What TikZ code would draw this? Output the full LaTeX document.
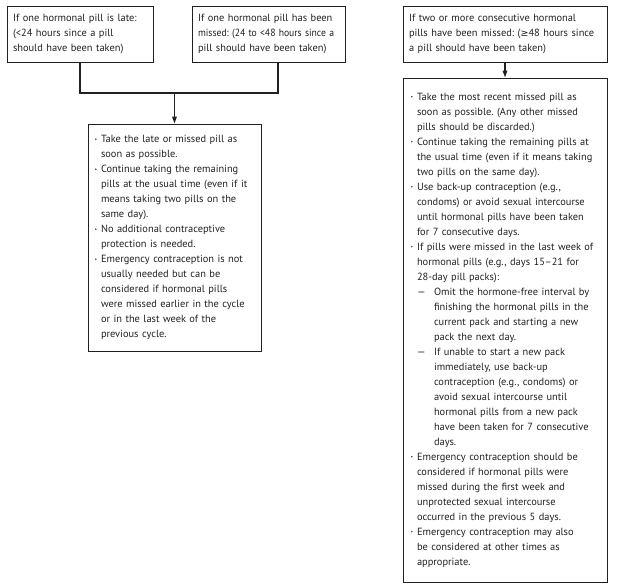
\documentclass[tikz,border=0pt]{standalone}
\usepackage{fontspec}
\setmainfont{PT Sans}
\newfontfamily\symfont{DejaVu Sans}
\usetikzlibrary{arrows.meta}
\definecolor{inkc}{HTML}{231F20}
\frenchspacing
\newcommand\mybul{\makebox[6pt][l]{\raisebox{2.6pt}{\tikz\fill[inkc] (0,0) circle (0.8pt);}}}
\newcommand\myhang{\hspace*{6pt}}
\newcommand\mydash{\hspace*{6pt}\makebox[17pt][l]{—}}
\newcommand\mydhang{\hspace*{23pt}}
\begin{document}
\begin{tikzpicture}[x=1pt,y=1pt,
  box/.style={draw=inkc, line width=0.9pt, text=inkc, align=left, anchor=center,
    font=\fontsize{10.4}{15}\selectfont\frenchspacing, inner xsep=6pt, inner ysep=0pt},
  conn/.style={draw=inkc, line width=1.4pt},
  arr/.style={-{Triangle[length=7pt,width=4.5pt]}}]
\useasboundingbox (0,0) rectangle (617,-587);
\node[box, minimum width=146pt, minimum height=56pt, text width=134pt] (A) at (80,-34)
 {If one hormonal pill is late:\\(<24 hours since a pill\\should have been taken)};
\node[box, minimum width=153pt, minimum height=56pt, text width=141pt] (B) at (268.5,-34)
 {If one hormonal pill has been\\\scalebox{0.93}[1]{missed: (24 to <48 hours since a}\\pill should have been taken)};
\node[box, minimum width=204pt, minimum height=56pt, text width=192pt] (D) at (505,-34)
 {If two or more consecutive hormonal\\pills have been missed: ({\symfont\fontsize{9.5}{15}\selectfont ≥}48 hours since\\a pill should have been taken)};
\node[box, minimum width=173pt, minimum height=227pt, text width=159pt, inner xsep=7pt] (C) at (174.5,-237.5)
 {\mybul Take the late or missed pill as\\
  \myhang soon as possible.\\
  \mybul Continue taking the remaining\\
  \myhang pills at the usual time (even if it\\
  \myhang means taking two pills on the\\
  \myhang same day).\\
  \mybul No additional contraceptive\\
  \myhang protection is needed.\\
  \mybul Emergency contraception is not\\
  \myhang usually needed but can be\\
  \myhang considered if hormonal pills\\
  \myhang were missed earlier in the cycle\\
  \myhang or in the last week of the\\
  \myhang previous cycle.};
\node[box, minimum width=204pt, minimum height=504pt, text width=188pt, inner xsep=8pt] (E) at (505,-330)
 {\mybul Take the most recent missed pill as\\
  \myhang soon as possible. (Any other missed\\
  \myhang pills should be discarded.)\\
  \mybul Continue taking the remaining pills at\\
  \myhang the usual time (even if it means taking\\
  \myhang two pills on the same day).\\
  \mybul Use back-up contraception (e.g.,\\
  \myhang condoms) or avoid sexual intercourse\\
  \myhang until hormonal pills have been taken\\
  \myhang for 7 consecutive days.\\
  \mybul If pills were missed in the last week of\\
  \myhang hormonal pills (e.g., days 15–21 for\\
  \myhang 28-day pill packs):\\
  \mydash Omit the hormone-free interval by\\
  \mydhang finishing the hormonal pills in the\\
  \mydhang current pack and starting a new\\
  \mydhang pack the next day.\\
  \mydash If unable to start a new pack\\
  \mydhang immediately, use back-up\\
  \mydhang contraception (e.g., condoms) or\\
  \mydhang avoid sexual intercourse until\\
  \mydhang hormonal pills from a new pack\\
  \mydhang have been taken for 7 consecutive\\
  \mydhang days.\\
  \mybul Emergency contraception should be\\
  \myhang considered if hormonal pills were\\
  \myhang missed during the first week and\\
  \myhang unprotected sexual intercourse\\
  \myhang occurred in the previous 5 days.\\
  \mybul Emergency contraception may also\\
  \myhang be considered at other times as\\
  \myhang appropriate.};
\coordinate (j) at (174.5,-93);
\draw[conn] (A.south) |- (j) -| ([xshift=9.5pt]B.south);
\draw[conn,arr] (j) -- (C.north);
\draw[conn,arr] (D.south) -- (E.north);
\end{tikzpicture}
\end{document}
